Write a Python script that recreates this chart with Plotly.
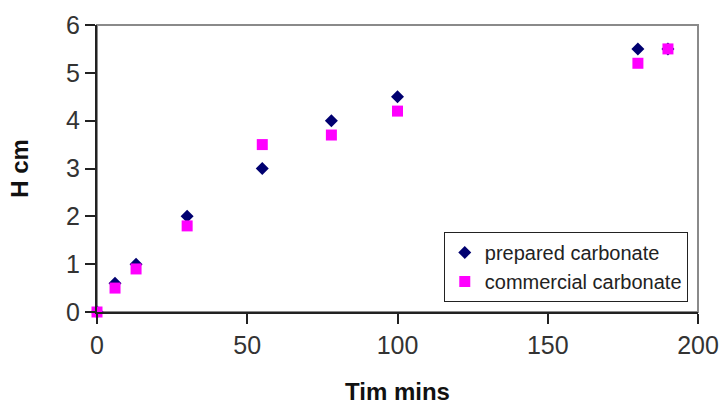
import plotly.graph_objects as go

time_prepared = [0, 6, 13, 30, 55, 78, 100, 180, 190]
h_prepared = [0, 0.6, 1.0, 2.0, 3.0, 4.0, 4.5, 5.5, 5.5]
time_commercial = [0, 6, 13, 30, 55, 78, 100, 180, 190]
h_commercial = [0, 0.5, 0.9, 1.8, 3.5, 3.7, 4.2, 5.2, 5.5]
x_ticks = [0, 50, 100, 150, 200]
y_ticks = [0, 1, 2, 3, 4, 5, 6]

FONT = "Liberation Sans, Arial, sans-serif"

fig = go.Figure()
fig.add_trace(go.Scatter(
    x=time_prepared, y=h_prepared, mode="markers", name="prepared carbonate",
    marker=dict(symbol="diamond", size=10, color="#000070"), cliponaxis=False))
fig.add_trace(go.Scatter(
    x=time_commercial, y=h_commercial, mode="markers", name="commercial carbonate",
    marker=dict(symbol="square", size=11, color="#FF00FF"), cliponaxis=False))

fig.update_layout(
    width=724, height=405,
    margin=dict(l=97, r=26, t=25, b=93),
    paper_bgcolor="white", plot_bgcolor="white",
    font=dict(family=FONT, color="#222222"),
    showlegend=True,
    legend=dict(x=0.577, y=0.279, xanchor="left", yanchor="top",
                bordercolor="#222222", borderwidth=1, bgcolor="white",
                font=dict(size=20, family=FONT, color="#222222")),
    shapes=[dict(type="rect", xref="paper", yref="paper", x0=0, y0=0, x1=1, y1=1,
                 line=dict(color="#8a8a8a", width=2), layer="below")],
)
fig.update_xaxes(range=[0, 200], tickvals=x_ticks, showgrid=False, zeroline=False,
                 automargin=False,
                 showline=True, linecolor="#222222", linewidth=2,
                 ticks="outside", ticklen=10, tickwidth=2, tickcolor="#222222",
                 tickfont=dict(size=25, family=FONT, color="#333333"),
                 title=dict(text="<b>Tim mins</b>", font=dict(size=24, family=FONT, color="#111111"), standoff=27))
fig.update_yaxes(range=[0, 6], tickvals=y_ticks, showgrid=False, zeroline=False,
                 automargin=False,
                 showline=True, linecolor="#222222", linewidth=2,
                 ticks="outside", ticklen=10, tickwidth=2, tickcolor="#222222",
                 tickfont=dict(size=25, family=FONT, color="#333333"),
                 title=dict(text="<b>H cm</b>", font=dict(size=24, family=FONT, color="#111111"), standoff=31))

fig.write_html("out.html")
